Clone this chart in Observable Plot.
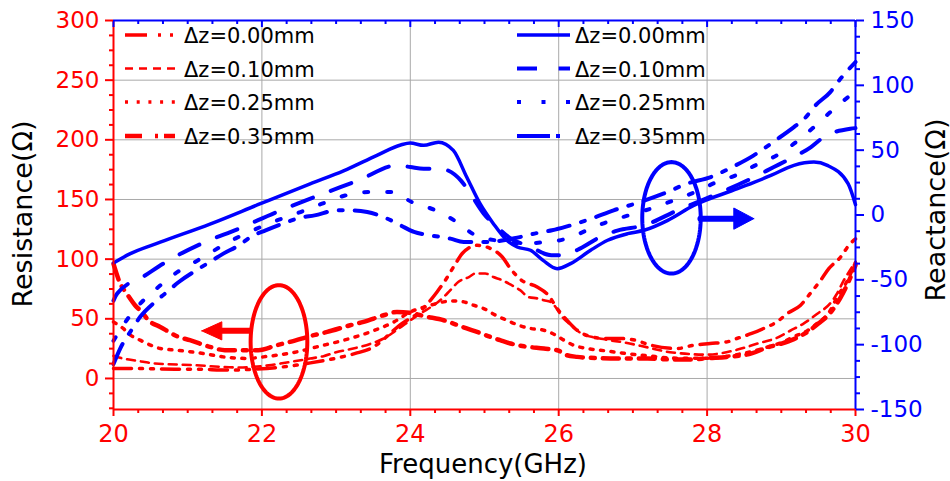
<!DOCTYPE html>
<html><head><meta charset="utf-8">
<script src="https://cdn.jsdelivr.net/npm/d3@7"></script>
<script src="https://cdn.jsdelivr.net/npm/@observablehq/plot@0.6"></script>
<style>
html,body{margin:0;padding:0;background:#fff;}
#chart{width:950px;height:481px;}
</style></head><body><div id="chart"></div>
<script>
// ---------- axis tick values ----------
const freqTicks = [20, 22, 24, 26, 28, 30];
const freqGrid = [22, 24, 26, 28];
const resTicks = [0, 50, 100, 150, 200, 250, 300];
const resGrid = [0, 50, 100, 150, 200, 250];
const reaTicks = [-150, -100, -50, 0, 50, 100, 150];
const resDomain = [-26, 300];
const reaDomain = [-150, 150];

// ---------- series labels ----------
const seriesLabels = ["Δz=0.00mm", "Δz=0.10mm", "Δz=0.25mm", "Δz=0.35mm"];

// ---------- Reactance (Ω), right axis ----------
const fX00 = [20, 20.22, 20.63, 21.3, 21.98, 22.65, 23.1, 23.55, 23.87, 24.0, 24.18, 24.38, 24.58, 24.76, 24.94, 25.12, 25.3, 25.44, 25.62, 25.79, 25.98, 26.16, 26.43, 26.66, 26.93, 27.15, 27.47, 27.82, 28.41, 28.86, 29.17, 29.44, 29.62, 29.9, 30];
const vX00 = [-37, -30, -21, -7, 8.7, 24, 34, 46, 54, 55.5, 53.7, 56.2, 49.8, 29.3, 8.7, -6.7, -19.5, -24.7, -27.2, -35, -41.4, -37.5, -27.2, -19.5, -14.4, -11.8, -4.1, 7.4, 20.3, 30.5, 38.3, 40.8, 38.3, 24.2, 8];
const fX10 = [20, 20.05, 20.43, 20.67, 21.19, 21.69, 22.2, 22.76, 23.3, 23.82, 24.0, 24.18, 24.4, 24.68, 24.81, 24.99, 25.17, 25.35, 25.6, 25.9, 26.07, 26.25, 26.56, 26.79, 27.15, 27.6, 27.87, 28.14, 28.59, 28.9, 29.12, 29.4, 29.57, 29.93, 30];
const vX10 = [-66, -60.6, -46.5, -37.5, -22, -10.5, 2.3, 15, 26.7, 38.3, 37, 35.7, 35.7, 26.7, 16.4, 1, -9.3, -18, -24, -31, -31, -27, -17, -12, -8, 3.6, 10, 16.4, 28, 37, 43.4, 52.4, 60, 66.5, 67];
const fX25 = [20, 20.16, 20.34, 20.58, 20.83, 21.1, 21.64, 21.93, 22.23, 22.52, 22.81, 23.12, 23.44, 23.75, 24.02, 24.34, 24.59, 24.88, 25.2, 25.5, 25.8, 26.11, 26.38, 26.65, 26.94, 27.24, 27.55, 27.85, 28.13, 28.38, 28.65, 29.0, 29.17, 29.44, 29.66, 29.93, 30];
const vX25 = [-97, -82.5, -69.6, -56.8, -45.2, -36.2, -18.2, -10.5, -3.6, 2.3, 8.7, 15, 17.7, 17.7, 10, 3.6, -4.1, -15.7, -20, -22, -21, -18.2, -11.8, -5.4, -0.3, 4.9, 11.3, 18, 25.4, 30.5, 38.3, 48, 55, 67.8, 79.3, 92.2, 95];
const fX35 = [20, 20.09, 20.25, 20.36, 20.56, 20.72, 20.88, 21.15, 21.3, 21.48, 21.69, 21.86, 22.05, 22.34, 22.52, 22.71, 23.01, 23.21, 23.42, 23.69, 23.87, 24.05, 24.27, 24.54, 24.72, 25.03, 25.4, 25.7, 25.91, 26.1, 26.43, 26.74, 27.1, 27.41, 27.73, 28.05, 28.34, 28.63, 28.92, 29.17, 29.31, 29.46, 29.66, 29.78, 30];
const vX35 = [-115, -103, -88, -78.5, -67, -59.4, -51.7, -41.4, -36.2, -29.8, -23.4, -16.5, -11.8, -5.4, -2, -0.3, 3.6, 3.6, 2.3, -2.8, -8, -13.1, -15.7, -18.2, -20.8, -20.8, -18, -14, -11.8, -9, -3, 3.6, 10, 16.4, 24.2, 29.3, 37, 46, 57.5, 67.8, 74.2, 84.5, 94.8, 103.8, 118];

// ---------- Resistance (Ω), left axis ----------
const fR00 = [20, 20.2, 20.83, 21.03, 21.62, 21.8, 22.45, 22.6, 23.26, 23.46, 23.91, 24.09, 24.36, 24.5, 24.61, 24.7, 24.9, 25.08, 25.24, 25.35, 25.5, 25.71, 25.86, 25.98, 26.09, 26.22, 26.45, 26.65, 26.83, 27.03, 27.24, 27.6, 27.82, 28.04, 28.27, 28.4, 28.6, 28.76, 28.94, 29.08, 29.26, 29.39, 29.53, 29.64, 29.8, 29.91, 30];
const vR00 = [8.4, 8.4, 7.8, 7.8, 7, 7.5, 11, 12.5, 21, 25, 47, 54, 72.5, 85, 96.3, 104.7, 111.6, 108.9, 101.8, 92, 82.3, 76.7, 69.8, 58.6, 50.3, 41.9, 34.8, 33.5, 33.5, 32.1, 27.9, 25.1, 27.9, 29.3, 30.7, 33.5, 37.7, 41.9, 47.4, 54.4, 61.4, 71.2, 82.3, 92, 101.8, 111.6, 117];
const fR10 = [20, 20.05, 20.4, 20.56, 21.12, 21.44, 21.69, 22.09, 22.25, 22.65, 22.83, 23.0, 23.15, 23.46, 23.64, 23.78, 23.96, 24.1, 24.43, 24.54, 24.65, 24.79, 24.88, 25.01, 25.12, 25.24, 25.37, 25.48, 25.59, 25.72, 25.8, 25.89, 26.07, 26.14, 26.3, 26.6, 26.9, 27.2, 27.5, 28.0, 28.4, 28.72, 28.94, 29.12, 29.3, 29.48, 29.66, 29.75, 29.84, 29.95, 30];
const vR10 = [19, 18, 14, 12.5, 11.1, 9.8, 9.2, 11, 12.5, 16.7, 18.7, 22, 24, 29, 33.5, 39, 47, 53, 67, 74, 81, 85, 88, 88, 85, 82.3, 78, 74, 68.3, 67, 65.6, 64.2, 50, 46, 38, 33, 30, 26, 22, 20, 24, 30, 34, 40, 46, 54, 63, 71, 82, 93, 98];
const fR25 = [20, 20.13, 20.23, 20.36, 20.5, 20.63, 20.85, 21.21, 21.48, 21.8, 22.02, 22.47, 22.74, 23.1, 23.46, 23.78, 24.0, 24.2, 24.45, 24.58, 24.72, 24.85, 24.99, 25.15, 25.3, 25.46, 25.62, 25.8, 25.96, 26.07, 26.2, 26.38, 26.56, 26.9, 27.2, 27.6, 28.0, 28.4, 28.8, 29.0, 29.17, 29.35, 29.48, 29.66, 29.75, 29.89, 29.97, 30];
const vR25 = [47.4, 41.9, 36.3, 32.1, 27.9, 25.1, 23.7, 20.9, 18.1, 16.8, 18.1, 22.3, 26.5, 32, 39, 47.4, 55.8, 60, 64.2, 65, 64.2, 61.4, 58.6, 53, 48.8, 44.6, 41.9, 40.4, 36.3, 32.1, 27.9, 25.1, 23.7, 21, 19, 17, 17, 20, 26, 30, 35, 40, 46, 57, 68, 82, 93, 97];
const fR35 = [20, 20.09, 20.18, 20.29, 20.38, 20.47, 20.63, 20.88, 21.03, 21.3, 21.5, 21.8, 21.95, 22.2, 22.38, 22.7, 22.88, 23.19, 23.37, 23.64, 23.82, 24.0, 24.2, 24.45, 24.58, 24.76, 24.9, 25.08, 25.21, 25.35, 25.53, 25.8, 25.98, 26.11, 26.25, 26.43, 26.7, 27.2, 27.5, 27.8, 28.0, 28.27, 28.6, 28.81, 28.99, 29.17, 29.35, 29.5, 29.66, 29.8, 29.92, 30];
const vR35 = [96, 79.6, 71, 61.4, 55.8, 48.8, 43.2, 34.8, 32.1, 26.5, 23.7, 23.7, 23.7, 27.9, 30.7, 36.3, 39, 44.6, 47.4, 53, 55.8, 55, 52, 48.8, 46, 41.9, 39, 34.8, 32.1, 29.3, 27, 25.1, 23.7, 19.5, 18.1, 17.3, 16.8, 16.8, 16, 16, 17, 18.1, 21, 26, 29, 33, 39, 46, 55, 68, 83, 95];

// ---------- annotations (data coordinates) ----------
const redEllipse = [22.23, 30.7, 0.382, 47.5];   // centre f, centre R, radius f, radius R
const blueEllipse = [27.52, -2.2, 0.394, 43];    // centre f, centre X, radius f, radius X
const redArrow = [21.19, 21.46, 21.84, 39.9, 7.6];   // tip f, head base f, tail f, R, half head
const blueArrow = [28.63, 28.36, 27.91, -2.8, 8.2];  // tip f, head base f, tail f, X, half head

// ---------- build ----------
const toLeft = x => resDomain[0] + (x - reaDomain[0]) * (resDomain[1] - resDomain[0]) / (reaDomain[1] - reaDomain[0]);
const fromLeft = y => reaDomain[0] + (y - resDomain[0]) * (reaDomain[1] - reaDomain[0]) / (resDomain[1] - resDomain[0]);
const zipS = (fs, vs, conv) => fs.map((f, i) => ({f, v: conv ? conv(vs[i]) : vs[i]}));

const W = 950, H = 481, mL = 113, mR = 95, mT = 20, mB = 72;
const pxPerRes = (H - mT - mB) / (resDomain[1] - resDomain[0]);

const freqMinor = d3.range(0, 31).filter(i => i % 6 !== 0).map(i => 20 + i / 3);
const resMinor = d3.range(-25, 300, 12.5).filter(v => v % 50 !== 0);
const reaMinor = d3.range(-137.5, 150, 12.5).filter(v => v % 50 !== 0);

const blueSeries = [
  {data: zipS(fX00, vX00, toLeft), dash: null, w: 3.5},
  {data: zipS(fX10, vX10, toLeft), dash: "22 19", w: 4},
  {data: zipS(fX25, vX25, toLeft), dash: "4 19", w: 4},
  {data: zipS(fX35, vX35, toLeft), dash: "22 12 4 12", w: 4}
];
const redSeries = [
  {data: zipS(fR00, vR00), dash: "18 8 3 8 3 8", w: 3.5},
  {data: zipS(fR10, vR10), dash: "8 6", w: 2.6},
  {data: zipS(fR25, vR25), dash: "3 7.5", w: 3.5},
  {data: zipS(fR35, vR35), dash: "16 8 4 8", w: 4.5}
];

function ellipse(e, conv) {
  return d3.range(0, 361, 3).map(a => {
    const t = a * Math.PI / 180;
    const v = e[1] + e[3] * Math.sin(t);
    return {f: e[0] + e[2] * Math.cos(t), v: conv ? conv(v) : v};
  });
}
function arrowShaft(a, conv) {
  const c = conv || (d => d);
  return [{f: a[1], v: c(a[3])}, {f: a[2], v: c(a[3])}];
}
function arrowHead(a, conv) {
  const c = conv || (d => d);
  return [{f: a[0], v: c(a[3])}, {f: a[1], v: c(a[3] + a[4])}, {f: a[1], v: c(a[3] - a[4])}, {f: a[0], v: c(a[3])}];
}

const gridStyle = {stroke: "#a9a9a9", strokeWidth: 1};
const marks = [
  Plot.ruleX(freqGrid, gridStyle),
  Plot.ruleY(resGrid, gridStyle),
  // red resistance curves
  ...redSeries.map(s => Plot.line(s.data, {x: "f", y: "v", stroke: "#ff0000", strokeWidth: s.w, strokeDasharray: s.dash, curve: "monotone-x"})),
  // blue reactance curves
  ...blueSeries.map(s => Plot.line(s.data, {x: "f", y: "v", stroke: "#0000ff", strokeWidth: s.w, strokeDasharray: s.dash, curve: "monotone-x"})),
  // annotations
  Plot.line(ellipse(redEllipse), {x: "f", y: "v", stroke: "#ff0000", strokeWidth: 4, curve: "linear"}),
  Plot.line(arrowShaft(redArrow), {x: "f", y: "v", stroke: "#ff0000", strokeWidth: 6}),
  Plot.line(arrowHead(redArrow), {x: "f", y: "v", stroke: "#ff0000", fill: "#ff0000", strokeWidth: 1}),
  Plot.line(ellipse(blueEllipse, toLeft), {x: "f", y: "v", stroke: "#0000ff", strokeWidth: 4, curve: "linear"}),
  Plot.line(arrowShaft(blueArrow, toLeft), {x: "f", y: "v", stroke: "#0000ff", strokeWidth: 6}),
  Plot.line(arrowHead(blueArrow, toLeft), {x: "f", y: "v", stroke: "#0000ff", fill: "#0000ff", strokeWidth: 1}),
  // frame lines
  Plot.ruleX([20], {stroke: "#ff0000", strokeWidth: 2}),
  Plot.ruleX([30], {stroke: "#0000ff", strokeWidth: 2}),
  Plot.ruleY([resDomain[0]], {stroke: "#ff0000", strokeWidth: 2}),
  Plot.ruleY([resDomain[1]], {stroke: "#0000ff", strokeWidth: 2}),
  // top inward ticks (blue)
  Plot.ruleX(freqTicks, {x: d => d, y1: resDomain[1], y2: resDomain[1] - 7 / pxPerRes, stroke: "#0000ff", strokeWidth: 2}),
  Plot.ruleX(freqMinor, {x: d => d, y1: resDomain[1], y2: resDomain[1] - 4 / pxPerRes, stroke: "#0000ff", strokeWidth: 2}),
  // bottom axis
  Plot.axisX({ticks: freqTicks, tickSize: 7, tickPadding: 8, fontSize: 24, color: "#ff0000", strokeWidth: 2, label: null, tickFormat: d => String(d)}),
  Plot.axisX({ticks: freqMinor, tickSize: 4, color: "#ff0000", strokeWidth: 2, label: null, tickFormat: () => ""}),
  // left axis
  Plot.axisY({ticks: resTicks, anchor: "left", tickSize: 8, tickPadding: 6, fontSize: 23, color: "#ff0000", strokeWidth: 2, label: null, tickFormat: d => String(d)}),
  Plot.axisY({ticks: resMinor, anchor: "left", tickSize: 4, color: "#ff0000", strokeWidth: 2, label: null, tickFormat: () => ""}),
  // right axis
  Plot.axisY({ticks: reaTicks.map(toLeft), anchor: "right", tickSize: 8, tickPadding: 7, fontSize: 23, color: "#0000ff", strokeWidth: 2, label: null, tickFormat: d => String(Math.round(fromLeft(d)))}),
  Plot.axisY({ticks: reaMinor.map(toLeft), anchor: "right", tickSize: 4, color: "#0000ff", strokeWidth: 2, label: null, tickFormat: () => ""})
];

const svgEl = Plot.plot({
  width: W, height: H,
  marginLeft: mL, marginRight: mR, marginTop: mT, marginBottom: mB,
  style: {fontFamily: "DejaVu Sans", background: "#ffffff", overflow: "visible"},
  x: {domain: [20, 30]},
  y: {domain: resDomain},
  marks
});
document.getElementById("chart").appendChild(svgEl);

// ---------- titles and legend ----------
const svg = d3.select(svgEl);
const ff = "DejaVu Sans";
svg.append("text").attr("transform", "translate(32,214) rotate(-90)").attr("text-anchor", "middle")
  .attr("font-family", ff).attr("font-size", 27).attr("fill", "#000").text("Resistance(Ω)");
svg.append("text").attr("transform", "translate(945,210) rotate(-90)").attr("text-anchor", "middle")
  .attr("font-family", ff).attr("font-size", 27).attr("fill", "#000").text("Reactance(Ω)");
svg.append("text").attr("x", 483).attr("y", 473).attr("text-anchor", "middle")
  .attr("font-family", ff).attr("font-size", 26).attr("fill", "#000").text("Frequency(GHz)");

const rowsY = [35, 68.5, 102, 136];
const redLegendDash = ["22 11 3 9 3 20", "8 6", "3 8.7", "17 13 3 6"];
const redLegendW = [3.5, 2.6, 3.5, 4.5];
const blueLegendDash = [null, "20 21.6", "4 20.5", "33 6 4 20"];
const blueLegendW = [3.5, 4, 4, 4];
const lg = svg.append("g").attr("text-anchor", "start");
seriesLabels.forEach((lab, i) => {
  const y = rowsY[i];
  lg.append("line").attr("x1", 125).attr("x2", 175).attr("y1", y).attr("y2", y)
    .attr("stroke", "#ff0000").attr("stroke-width", redLegendW[i]).attr("stroke-dasharray", redLegendDash[i]);
  lg.append("text").attr("x", 184).attr("y", y + 8).attr("text-anchor", "start").attr("font-family", ff).attr("font-size", 21).attr("fill", "#000").text(lab);
  lg.append("line").attr("x1", 517).attr("x2", 570).attr("y1", y).attr("y2", y)
    .attr("stroke", "#0000ff").attr("stroke-width", blueLegendW[i]).attr("stroke-dasharray", blueLegendDash[i]);
  lg.append("text").attr("x", 575).attr("y", y + 8).attr("text-anchor", "start").attr("font-family", ff).attr("font-size", 21).attr("fill", "#000").text(lab);
});
</script></body></html>
